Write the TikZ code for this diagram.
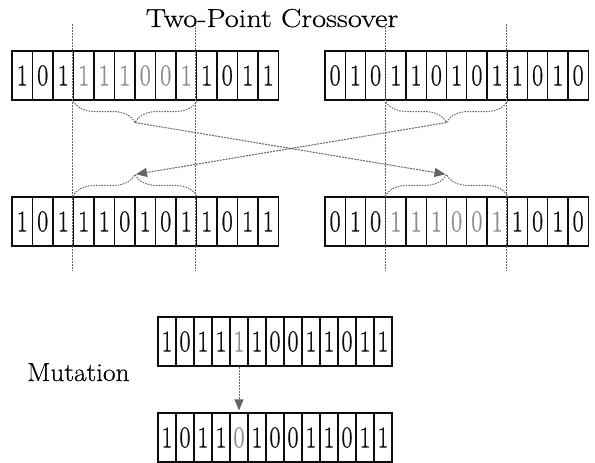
\documentclass[tikz,border=0pt]{standalone}
\usepackage{graphicx}
\usepackage{fontspec}
\newfontfamily\genefont{Latin Modern Roman}[FakeBold=0.9]
\newfontfamily\headfont{Latin Modern Roman}[FakeBold=0.5]
\usetikzlibrary{calc,arrows.meta,decorations.pathreplacing}

\definecolor{ink}{gray}{0.05}
\definecolor{fade}{gray}{0.55}
\definecolor{guide}{gray}{0.4}

% one digit of a chromosome: tall, slightly narrow serif figure
\newcommand{\gene}[2]{\scalebox{0.8}[1]{\textcolor{#2}{#1}}}

% a chromosome row: name, left x, top y, cell width, list of digit/colour
\newcommand{\chromo}[5]{%
  \foreach \d/\c [count=\i] in {#5}{%
    \node[cell, minimum width=#4pt] (#1\i) at ({#2+(\i-0.5)*#4}, {#3+24.5}) {\gene{\d}{\c}};
  }%
}

\tikzset{
  cell/.style={draw=ink, line width=1.1pt, minimum height=49pt, inner sep=0pt,
    font=\genefont\fontsize{30}{30}\selectfont},
  cutline/.style={draw=guide, line width=1pt, dash pattern=on 1.5pt off 1.5pt},
  brc/.style={draw=guide, line width=1pt, dash pattern=on 1.5pt off 1.2pt,
    decorate},
  swap/.style={draw=guide, line width=1pt, dash pattern=on 2pt off 1pt,
    -{Triangle[length=11pt,width=9pt,fill=guide]}, shorten >=1pt},
  label/.style={font=\headfont\fontsize{26}{26}\selectfont, inner sep=0pt}
}

\begin{document}
\begin{tikzpicture}[x=1pt,y=-1pt]
\useasboundingbox (0,0) rectangle (595,463);

% title
\node[label, anchor=base] (title) at (272,27) {\scalebox{1.17}[1]{Two-Point Crossover}};

% parents
\chromo{tl}{12}{51}{20.5}{1/ink,0/ink,1/ink,1/fade,1/fade,1/fade,0/fade,0/fade,1/fade,1/ink,0/ink,1/ink,1/ink}
\chromo{tr}{325}{51}{20.25}{0/ink,1/ink,0/ink,1/ink,1/ink,0/ink,1/ink,0/ink,1/ink,1/ink,0/ink,1/ink,0/ink}

% offspring
\chromo{bl}{12}{197}{20.5}{1/ink,0/ink,1/ink,1/ink,1/ink,0/ink,1/ink,0/ink,1/ink,1/ink,0/ink,1/ink,1/ink}
\chromo{br}{325}{197}{20.25}{0/ink,1/ink,0/ink,1/fade,1/fade,1/fade,0/fade,0/fade,1/fade,1/ink,0/ink,1/ink,0/ink}

% crossover points
\foreach \p/\q in {tl4/bl4, tl10/bl10, tr4/br4, tr10/br10}{
  \coordinate (\p top) at ([yshift=26pt]\p.north west);
  \coordinate (\p bot) at ([yshift=-24pt]\q.south west);
  \draw[cutline] (\p top) -- (\p bot);
}

% braces over the exchanged segments
\draw[brc, decoration={brace, amplitude=22pt}] (tl9.south east) -- (tl4.south west);
\draw[brc, decoration={brace, amplitude=22pt}] (tr9.south east) -- (tr4.south west);
\draw[brc, decoration={brace, amplitude=22pt}] (bl4.north west) -- (bl9.north east);
\draw[brc, decoration={brace, amplitude=22pt}] (br4.north west) -- (br9.north east);

\coordinate (tipTL) at ($(tl4.south west)!0.5!(tl9.south east)+(0,-22pt)$);
\coordinate (tipTR) at ($(tr4.south west)!0.5!(tr9.south east)+(0,-22pt)$);
\coordinate (tipBL) at ($(bl4.north west)!0.5!(bl9.north east)+(0,22pt)$);
\coordinate (tipBR) at ($(br4.north west)!0.5!(br9.north east)+(0,22pt)$);

\draw[swap] (tipTL) -- (tipBR);
\draw[swap] (tipTR) -- (tipBL);

% mutation
\node[label, anchor=base west] (mut) at (27,381) {\scalebox{1.05}[1]{Mutation}};
\chromo{mt}{158}{317}{18}{1/ink,0/ink,1/ink,1/ink,1/fade,1/ink,0/ink,0/ink,1/ink,1/ink,0/ink,1/ink,1/ink}
\chromo{mb}{158}{413}{18}{1/ink,0/ink,1/ink,1/ink,0/fade,1/ink,0/ink,0/ink,1/ink,1/ink,0/ink,1/ink,1/ink}
\draw[swap, shorten >=2pt] (mt5.south) -- (mb5.north);
\end{tikzpicture}
\end{document}
